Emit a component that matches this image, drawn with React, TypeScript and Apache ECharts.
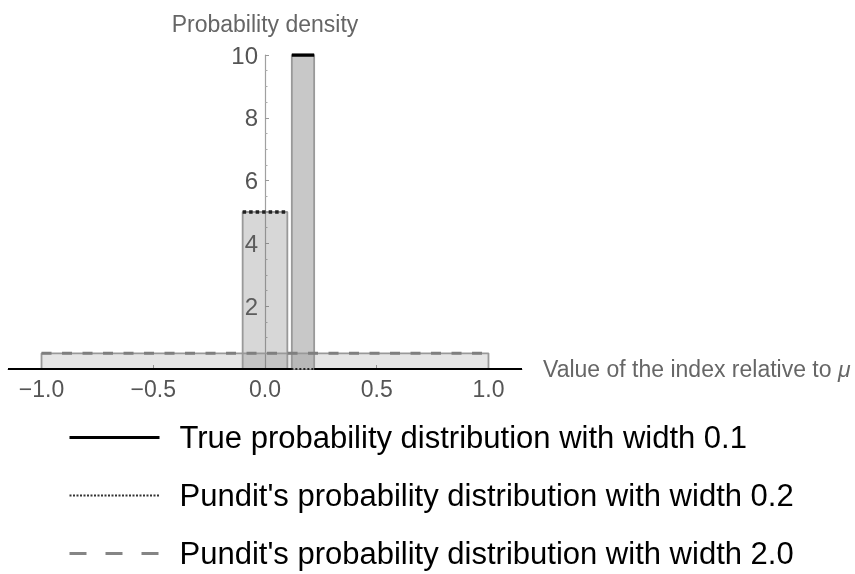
import React, { useEffect, useRef } from "react";
import * as echarts from "echarts";

// x-range of the plot
const xMin = -1.15;
const xMax = 1.15;

// distributions (uniform densities)
const distNames = [
  "True probability distribution with width 0.1",
  "Pundit's probability distribution with width 0.2",
  "Pundit's probability distribution with width 2.0",
];
const lefts = [0.12, -0.1, -1.0];
const rights = [0.22, 0.1, 1.0];
const heights = [10, 5, 0.5];

// tick values
const xTicks = [-1, -0.5, 0, 0.5, 1];

const FONT = "Liberation Sans, Arial, sans-serif";

const GRID_LEFT = 8;
const GRID_RIGHT = 333;
const CHART_W = 855;

const lineStyles = [
  { color: "#000000", width: 3.5, type: "solid" as any },
  { color: "#222222", width: 3.5, type: [3.5, 3] as any },
  { color: "#7f7f7f", width: 3, type: [10, 10.5] as any },
];
const zeroLineStyles = [
  { color: "#000000", width: 2, type: "solid" as any },
  { color: "#222222", width: 2, type: [2, 2] as any },
  { color: "#858585", width: 2, type: [10, 10.5] as any },
];
const legendLineStyles = [
  { color: "#000000", width: 3, type: "solid" as any },
  { color: "#333333", width: 2, type: [2, 1.5] as any },
  { color: "#858585", width: 3, type: [17, 19] as any },
];
const fills = ["rgba(110,110,110,0.38)", "rgba(110,110,110,0.28)", "rgba(110,110,110,0.18)"];

export default function App() {
  const ref = useRef<HTMLDivElement>(null);
  useEffect(() => {
    if (!ref.current) return;
    const chart = echarts.init(ref.current, undefined, { renderer: "svg" });
    const series: any[] = [];
    // fills, drawn widest first
    for (let i = 2; i >= 0; i--) {
      series.push({
        type: "line",
        name: "fill" + i,
        data: [
          [lefts[i], 0],
          [lefts[i], heights[i]],
          [rights[i], heights[i]],
          [rights[i], 0],
        ],
        symbol: "none",
        lineStyle: { color: "#999999", width: 1.8 },
        areaStyle: { color: fills[i], opacity: 1, origin: "start" },
        z: 2,
        silent: true,
      });
    }
    // outlines (zero parts and top segments)
    for (let i = 2; i >= 0; i--) {
      series.push({
        type: "line",
        name: distNames[i] + " zl",
        data: [
          [xMin, 0],
          [lefts[i], 0],
        ],
        symbol: "none",
        lineStyle: zeroLineStyles[i],
        z: 5 + (2 - i),
      });
      series.push({
        type: "line",
        name: distNames[i] + " zr",
        data: [
          [rights[i], 0],
          [xMax, 0],
        ],
        symbol: "none",
        lineStyle: zeroLineStyles[i],
        z: 5 + (2 - i),
      });
      series.push({
        type: "line",
        name: distNames[i],
        data: [
          [lefts[i], heights[i]],
          [rights[i], heights[i]],
        ],
        symbol: "none",
        lineStyle: lineStyles[i],
        itemStyle: { color: lineStyles[i].color },
        z: 5 + (2 - i),
      });
    }

    // pixel offset of x = 0 from the grid's left edge (y axis drawn there)
    const gridW = CHART_W - GRID_LEFT - GRID_RIGHT;
    const zeroOffset = ((0 - xMin) / (xMax - xMin)) * gridW;

    chart.setOption({
      animation: false,
      textStyle: { fontFamily: FONT },
      grid: {
        left: GRID_LEFT,
        right: GRID_RIGHT,
        top: 55,
        bottom: 205,
        containLabel: false,
        outerBoundsMode: "none",
      },
      legend: {
        orient: "vertical",
        left: 68,
        top: 422,
        padding: 0,
        itemWidth: 90,
        itemHeight: 30,
        itemGap: 27,
        selectedMode: false,
        textStyle: { fontSize: 31, color: "#000", fontFamily: FONT, padding: [0, 0, 0, 15] },
        data: distNames.map((n, i) => ({
          name: n,
          lineStyle: legendLineStyles[i],
          itemStyle: { color: "transparent", opacity: 0, borderWidth: 0 },
        })),
      },
      xAxis: {
        type: "value",
        min: xMin,
        max: xMax,
        name: "Value of the index relative to {i|μ}",
        nameLocation: "end",
        nameGap: 21,
        nameTextStyle: {
          fontSize: 23,
          color: "#666",
          align: "left",
          verticalAlign: "middle",
          rich: { i: { fontStyle: "italic", fontSize: 23, color: "#666", fontFamily: FONT } },
        },
        axisLine: { show: true, onZero: false, lineStyle: { color: "#8c8c8c", width: 1.2 } },
        axisTick: { show: true, inside: true, length: 4, customValues: xTicks, lineStyle: { color: "#999" } },
        axisLabel: {
          customValues: xTicks,
          fontSize: 23,
          color: "#555",
          margin: 8,
          formatter: (v: number) => (v < 0 ? "\u2212" : "") + Math.abs(v).toFixed(1),
        },
        splitLine: { show: false },
      },
      yAxis: {
        type: "value",
        min: 0,
        max: 10,
        interval: 2,
        position: "left",
        offset: -zeroOffset,
        name: "Probability density",
        nameLocation: "end",
        nameGap: 20,
        nameTextStyle: { fontSize: 23, color: "#666", align: "center" },
        axisLine: { show: true, onZero: false, lineStyle: { color: "#a0a0a0", width: 1.2 } },
        axisTick: { show: true, inside: true, length: 4, lineStyle: { color: "#999" } },
        minorTick: { show: true, splitNumber: 4, length: 2.5, lineStyle: { color: "#aaa" } },
        axisLabel: { showMinLabel: false, fontSize: 24, color: "#555", margin: 7 },
        splitLine: { show: false },
      },
      series,
    });
    return () => chart.dispose();
  }, []);
  return <div ref={ref} style={{ position: "fixed", left: 0, top: 0, width: 855, height: 574 }} />;
}
